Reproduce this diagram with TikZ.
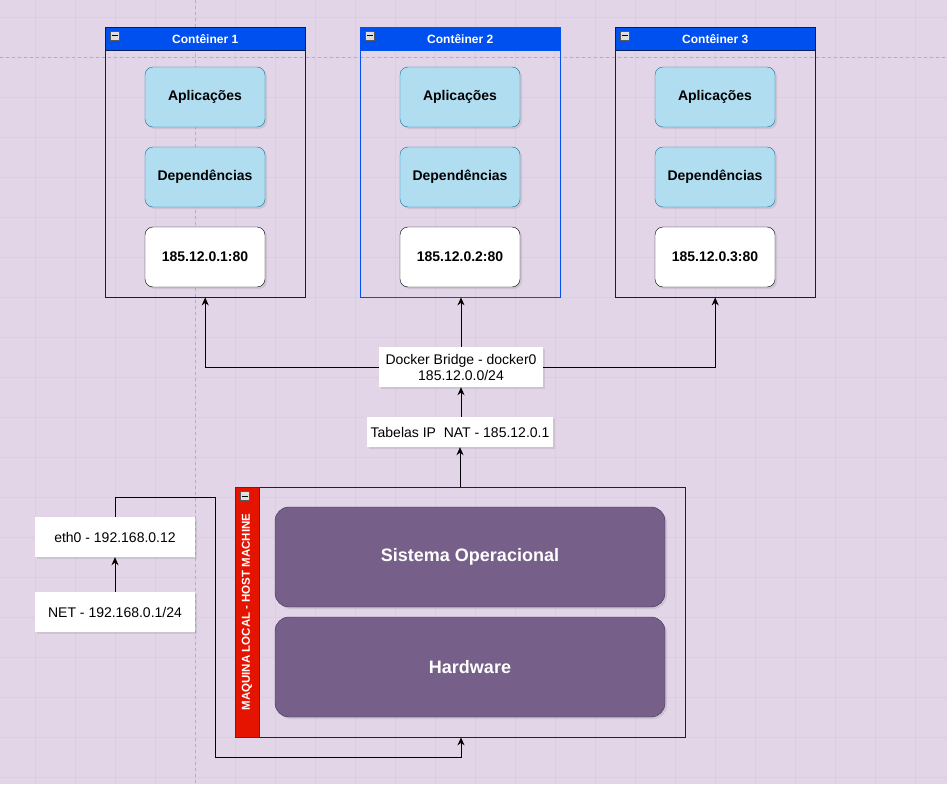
\documentclass[tikz,border=0pt]{standalone}
\usepackage{fontspec}
\setmainfont{Liberation Sans}
\usetikzlibrary{shadows,arrows.meta}
\definecolor{bg}{HTML}{E1D5E7}
\definecolor{grid}{HTML}{DACEE0}
\definecolor{hdr}{HTML}{0050EF}
\definecolor{lb}{HTML}{B1DDF0}
\definecolor{lbd}{HTML}{10739E}
\definecolor{pur}{HTML}{76608A}
\definecolor{purd}{HTML}{432D57}
\definecolor{redb}{HTML}{E51400}
\tikzset{
 sh/.style={drop shadow={shadow xshift=2pt,shadow yshift=-2pt,opacity=0.2}},
 cont/.style={draw=#1,fill=none,minimum width=200pt,minimum height=270pt,anchor=north west},
 hd/.style={draw=#1,fill=hdr,text=white,font=\bfseries\fontsize{12}{14}\selectfont,minimum width=200pt,minimum height=23pt,anchor=north west,inner sep=0},
 app/.style={draw=lbd,fill=lb,rounded corners=8pt,minimum width=120pt,minimum height=60pt,font=\bfseries\fontsize{14}{16}\selectfont,sh},
 ip/.style={draw=black,fill=white,rounded corners=8pt,minimum width=120pt,minimum height=60pt,font=\bfseries\fontsize{14}{16}\selectfont,sh},
 lbl/.style={draw=none,fill=white,font=\fontsize{14}{16}\selectfont,align=center,sh,inner sep=0},
 hw/.style={draw=purd,fill=pur,text=white,rounded corners=14pt,minimum width=390pt,minimum height=100pt,font=\bfseries\fontsize{18}{20}\selectfont,sh},
 arr/.style={-{Stealth[length=8pt,width=7pt]},black,line width=1pt},
 mini/.style={draw=gray!70!black,fill=gray!25,minimum size=9pt,inner sep=0}
}
\begin{document}
\begin{tikzpicture}[x=1pt,y=-1pt]
\useasboundingbox (0,0) rectangle (947,784);
\fill[bg] (0,0) rectangle (947,784);
\foreach \x in {35,75,...,947} \draw[grid,line width=0.8pt] (\x,0)--(\x,784);
\foreach \y in {17,57,...,784} \draw[grid,line width=0.8pt] (0,\y)--(947,\y);
\draw[gray!60,dashed,line width=0.8pt] (195,0)--(195,784);
\draw[gray!60,dashed,line width=0.8pt] (0,57)--(947,57);

\foreach \i/\x/\c in {1/105/black!60!hdr,2/360/hdr,3/615/black!60!hdr}{
 \node[cont=\c] (c\i) at (\x,27) {};
 \node[hd=\c] (h\i) at (\x,27) {Contêiner \i};
 \node[mini] (m\i) at (\x+10,36) {};
 \draw[line width=1pt] (\x+7,36)--(\x+13,36);
 \node[app] (a\i) at (\x+100,97) {Aplicações};
 \node[app] (d\i) at (\x+100,177) {Dependências};
 \node[ip] (p\i) at (\x+100,257) {185.12.0.\i:80};
}
\node[lbl,minimum width=164pt,minimum height=40pt] (br) at (461,367) {Docker Bridge - docker0\\185.12.0.0/24};
\node[lbl,minimum width=186pt,minimum height=30pt] (nat) at (460,432) {Tabelas IP\ \ NAT - 185.12.0.1};

\node[draw=purd!60!black,minimum width=450pt,minimum height=250pt,anchor=north west] (host) at (235,487) {};
\node[fill=redb,draw=redb!70!black,minimum width=24pt,minimum height=250pt,anchor=north west,inner sep=0] (bar) at (235,487) {};
\node[rotate=90,text=white,font=\bfseries\fontsize{11.5}{13}\selectfont] (bt) at (247,612) {MAQUINA LOCAL - HOST MACHINE};
\node[mini] (mh) at (245,496) {};
\draw[line width=1pt] (242,496)--(248,496);
\node[hw] (so) at (470,557) {Sistema Operacional};
\node[hw] (hw) at (470,667) {Hardware};

\node[lbl,minimum width=160pt,minimum height=40pt] (eth) at (115,537) {eth0 - 192.168.0.12};
\node[lbl,minimum width=160pt,minimum height=40pt] (net) at (115,612) {NET - 192.168.0.1/24};

\draw[arr] (br.north) -- (br.north |- c2.south);
\draw[arr] (br.west) -| (c1.south);
\draw[arr] (br.east) -| (c3.south);
\draw[arr] (nat.north -| br.south) -- (br.south);
\draw[arr] (host.north -| nat.south) -- (nat.south);
\draw[arr] (net.north) -- (eth.south);
\coordinate (k1) at (115,497);
\coordinate (k2) at (215,497);
\coordinate (k3) at (215,757);
\coordinate (k4) at (461,757);
\draw[arr] (eth.north) -- (k1) -- (k2) -- (k3) -- (k4) -- (host.south -| k4);
\end{tikzpicture}
\end{document}
